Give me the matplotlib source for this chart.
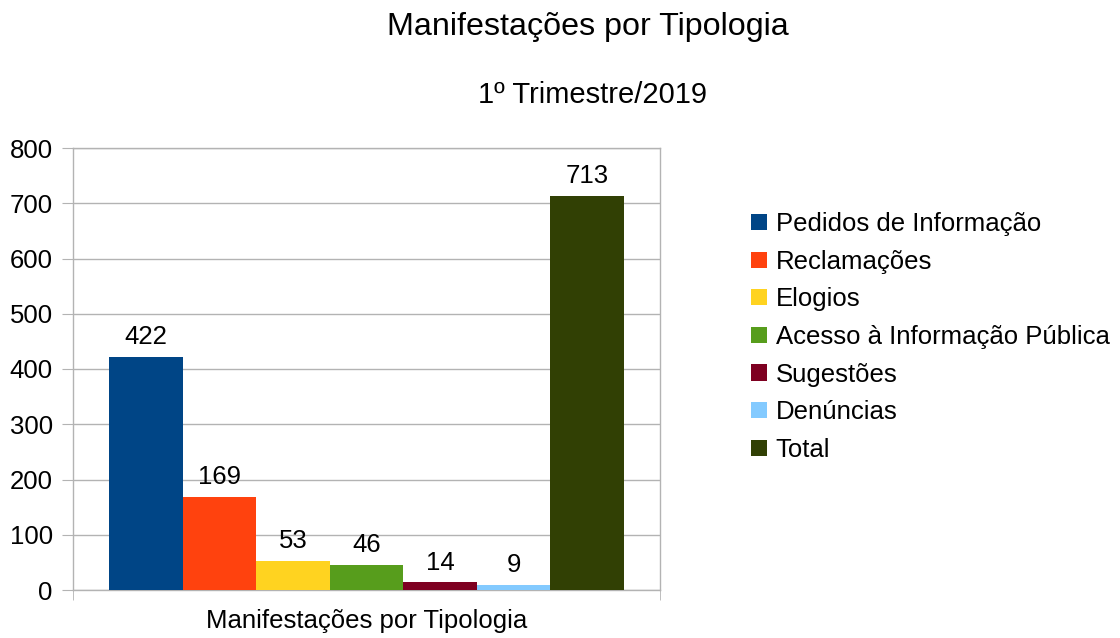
import matplotlib.pyplot as plt
import numpy as np

plt.rcParams["font.family"] = ["Liberation Sans", "DejaVu Sans"]

categories = [
    "Pedidos de Informação",
    "Reclamações",
    "Elogios",
    "Acesso à Informação Pública",
    "Sugestões",
    "Denúncias",
    "Total",
]
values = [422, 169, 53, 46, 14, 9, 713]
colors = ["#004586", "#ff420e", "#ffd320", "#579d1c", "#7e0021", "#83caff", "#314004"]
group_label = "Manifestações por Tipologia"
y_ticks = [0, 100, 200, 300, 400, 500, 600, 700, 800]

grid_color = "#b3b3b3"

fig = plt.figure(figsize=(11.2, 6.38), dpi=100)
ax = fig.add_axes([73 / 1120, 48 / 638, 587 / 1120, 442 / 638])

x = np.arange(len(values))
bars = ax.bar(x, values, width=1.0, color=colors, label=categories, zorder=3)
for xi, v in zip(x, values):
    ax.text(xi, v + 14, str(v), ha="center", va="bottom", fontsize=18.5, color="#000000")

ax.set_xlim(-0.99, len(values) - 1 + 0.99)
ax.set_ylim(0, 800)
ax.set_yticks(y_ticks)
ax.tick_params(axis="y", length=8, color=grid_color, labelsize=18.5, pad=6.5)
ax.grid(axis="y", color=grid_color, linewidth=1, zorder=0)

ax.set_xticks([(len(values) - 1) / 2])
ax.set_xticklabels([group_label], fontsize=18.5)
ax.tick_params(axis="x", length=0, pad=14)
ax.set_xticks([-0.99, len(values) - 1 + 0.99], minor=True)
ax.tick_params(axis="x", which="minor", length=7.5, color=grid_color)

for side in ["left", "right", "top", "bottom"]:
    ax.spines[side].set_color(grid_color)
    ax.spines[side].set_linewidth(1)

fig.text(0.5246, 0.958, "Manifestações por Tipologia", ha="center", va="center", fontsize=23.2)
fig.text(0.529, 0.851, "1º Trimestre/2019", ha="center", va="center", fontsize=21)

fig.legend(
    bars,
    categories,
    loc="upper left",
    bbox_to_anchor=(728 / 1120, 1 - 189 / 638),
    frameon=False,
    fontsize=18.5,
    handlelength=0.6,
    handleheight=0.6,
    handletextpad=0.35,
    labelspacing=0.53,
)

fig.savefig("out.png", dpi=100)
